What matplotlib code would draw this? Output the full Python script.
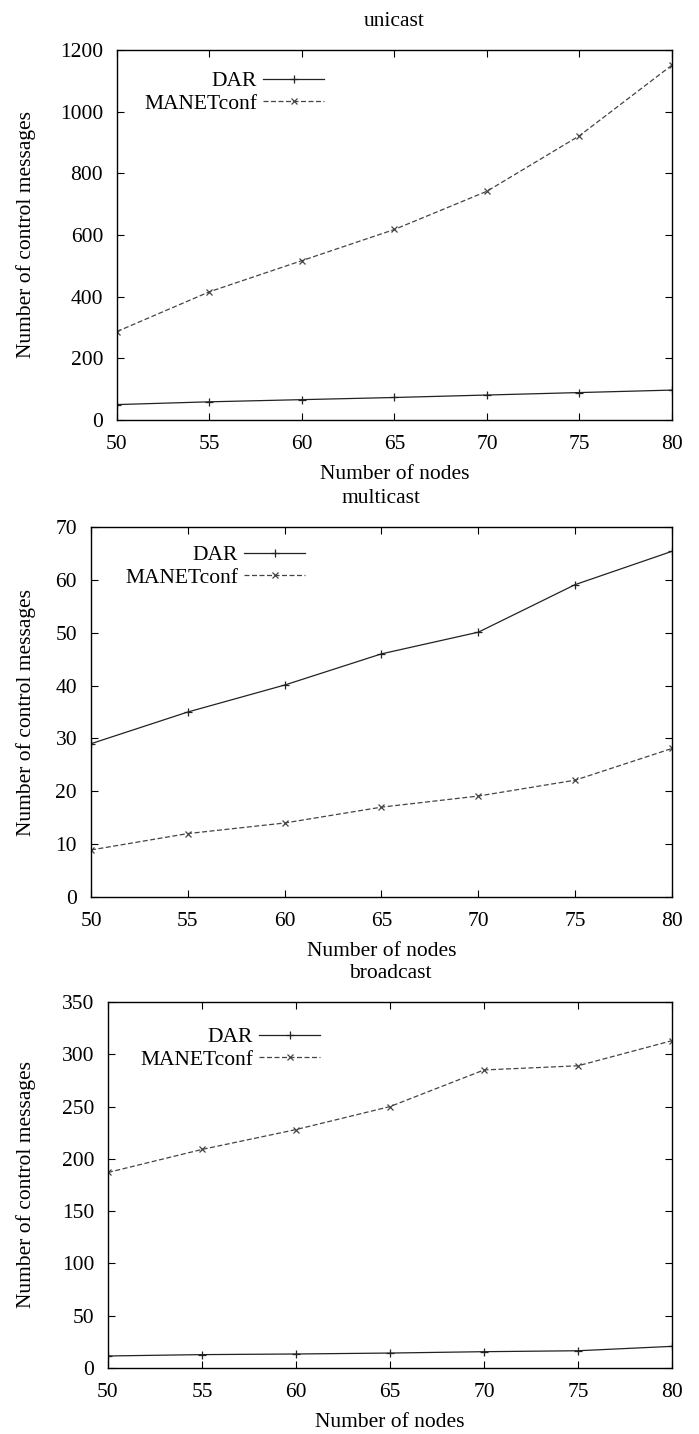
import numpy as np
import matplotlib as mpl
mpl.use('Agg')
import matplotlib.pyplot as plt

w, h, dpi = 699, 1434, 100
fs = 15.5

mpl.rc('font', family='Liberation Serif', size=fs)
mpl.rc('axes', linewidth=1.0)
mpl.rc('xtick', direction='in', top=True, labelsize=fs)
mpl.rc('ytick', direction='in', right=True, labelsize=fs)
mpl.rc('xtick.major', size=5, width=0.8, pad=11)
mpl.rc('ytick.major', size=5, width=0.8, pad=10)

# ---- data ----
nodes = [50, 55, 60, 65, 70, 75, 80]

uni_dar = [50, 59, 66, 73, 81, 89, 97]
uni_manet = [287, 416, 517, 618, 742, 922, 1151]

multi_dar = [29.0, 35.0, 40.1, 46.0, 50.1, 59.1, 65.4]
multi_manet = [8.9, 12.0, 14.0, 17.0, 19.1, 22.1, 28.1]

bcast_dar = [11.5, 12.8, 13.4, 14.3, 15.6, 16.5, 20.7]
bcast_manet = [187, 209, 228, 250, 285, 289, 313]

panels = [
    ('unicast', uni_dar, uni_manet, 1200, 200),
    ('multicast', multi_dar, multi_manet, 70, 10),
    ('broadcast', bcast_dar, bcast_manet, 350, 50),
]
# axes boxes in pixels: left, top, right, bottom
boxes = [(117, 50, 672, 420), (91, 527, 672, 897), (108, 1002, 672, 1368)]
legend_xy = [(144, 71), (125, 545), (140, 1027)]

fig = plt.figure(figsize=(w/dpi, h/dpi), dpi=dpi)

for (title, dar, manet, ymax, ystep), (l, t, r, b), (lx, ly) in zip(panels, boxes, legend_xy):
    ax = fig.add_axes([l/w, 1-b/h, (r-l)/w, (b-t)/h])
    ax.plot(nodes, dar, color='#222222', lw=0.9, marker='+', ms=6, mew=0.9,
            label='DAR')
    ax.plot(nodes, manet, color='#444444', lw=0.9, ls=(0, (4, 2)), marker='x',
            ms=5, mew=0.9, label='MANETconf')
    ax.set_xlim(50, 80)
    ax.set_ylim(0, ymax)
    ax.set_xticks(np.arange(50, 81, 5))
    ax.set_yticks(np.arange(0, ymax+1, ystep))
    ax.set_title(title, fontsize=fs, pad=17)
    ax.set_xlabel('Number of nodes', labelpad=8)
    ax.set_ylabel('Number of control messages')
    ax.yaxis.set_label_coords((36 - l)/(r - l), 0.5)
    ax.legend(loc='upper left', bbox_to_anchor=((lx - l)/(r - l), 1 - (ly - t)/(b - t)),
              frameon=False, markerfirst=False, handlelength=2.8,
              handletextpad=0.3, labelspacing=0.12, borderpad=0, borderaxespad=0,
              fontsize=fs)

plt.savefig('out.png', dpi=dpi)
